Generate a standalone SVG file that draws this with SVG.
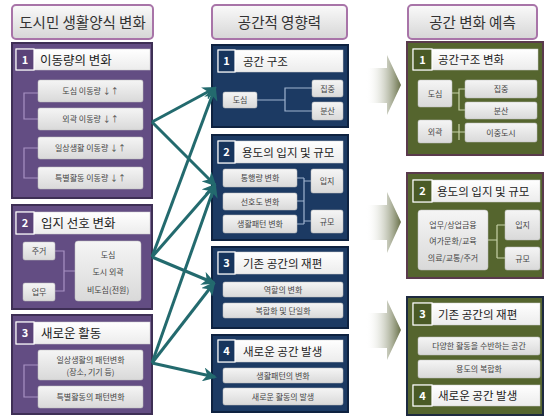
<svg xmlns="http://www.w3.org/2000/svg" width="546" height="419" viewBox="0 0 546 419">
<defs>
<linearGradient id="gSub" x1="0" y1="0" x2="0" y2="1"><stop offset="0" stop-color="#f5f5f5"/><stop offset="1" stop-color="#d9d9d9"/></linearGradient>
<linearGradient id="gTitle" x1="0" y1="0" x2="0" y2="1"><stop offset="0" stop-color="#fafafa"/><stop offset="1" stop-color="#d6d6d6"/></linearGradient>
<linearGradient id="gHead" x1="0" y1="0" x2="0" y2="1"><stop offset="0" stop-color="#ffffff"/><stop offset="1" stop-color="#ececec"/></linearGradient>
<linearGradient id="gArrow" x1="0" y1="0" x2="1" y2="0"><stop offset="0" stop-color="#ffffff" stop-opacity="0"/><stop offset="1" stop-color="#687048"/></linearGradient>
<marker id="ah" markerUnits="userSpaceOnUse" markerWidth="14" markerHeight="14" viewBox="0 0 14 14" refX="12" refY="7" orient="auto">
<path d="M0,0 L14,7 L0,14 L4,7 Z" fill="#236a6e"/>
</marker>
</defs>
<style>
text{font-family:"Noto Sans CJK KR","Noto Sans",sans-serif;}
.title{fill:url(#gTitle);stroke:#a874a8;stroke-width:2;}
.tt{font-size:14.5px;fill:#333;text-anchor:middle;}
.pp{fill:#634d83;stroke:#3e2f55;stroke-width:2;}
.pb{fill:#1c3a63;stroke:#0e2240;stroke-width:2;}
.pg{fill:#55652e;stroke:#5a3a4c;stroke-width:2;}
.pg2{fill:#55652e;stroke:#1e2a40;stroke-width:2;}
.hd{fill:url(#gHead);stroke:#cfcfcf;stroke-width:0.5;}
.nP{fill:#5a4378;stroke:#fff;stroke-width:1.2;}
.nB{fill:#17355d;stroke:#fff;stroke-width:1.2;}
.nG{fill:#4a5a26;stroke:#fff;stroke-width:1.2;}
.nt{font-size:11px;font-weight:bold;fill:#fff;text-anchor:middle;}
.ht{font-size:12.5px;fill:#222;}
.hs{font-size:11.5px;fill:#222;}
.sb{fill:url(#gSub);stroke:#bdbdbd;stroke-width:0.5;}
.st{font-size:8px;fill:#444;text-anchor:middle;}
.lp{fill:none;stroke:#a892c4;stroke-width:1.2;}
.lb{fill:none;stroke:#9fb3cf;stroke-width:1.2;}
.lg{fill:none;stroke:#c8d3a8;stroke-width:1.2;}
.cn{fill:none;stroke:#236a6e;stroke-width:3;marker-end:url(#ah);}
.ga{fill:url(#gArrow);}
</style>

<!-- Left column -->
<g id="title-left"><rect class="title" x="12" y="5" width="141" height="34" rx="4"/><text class="tt" x="82.5" y="27.5">도시민 생활양식 변화</text></g>

<g id="left-1">
<rect class="pp" x="12" y="43" width="140" height="155"/>
<rect class="hd" x="16" y="49" width="134" height="21"/>
<rect class="nP" x="16" y="49" width="18" height="21"/><text class="nt" x="25" y="64">1</text>
<text class="ht" x="40" y="64.5">이동량의 변화</text>
<path class="lp" d="M38,93 H24 V119 H38 M38,148 H24 V178 H38"/>
<rect class="sb" x="38" y="80" width="105" height="22" rx="2"/><text class="st" x="90.5" y="94">도심 이동량 ↓↑</text>
<rect class="sb" x="38" y="108" width="105" height="22" rx="2"/><text class="st" x="90.5" y="122">외곽 이동량 ↓↑</text>
<rect class="sb" x="38" y="137" width="105" height="22" rx="2"/><text class="st" x="90.5" y="151">일상생활 이동량 ↓↑</text>
<rect class="sb" x="38" y="167" width="105" height="22" rx="2"/><text class="st" x="90.5" y="181">특별활동 이동량 ↓↑</text>
</g>

<g id="left-2">
<rect class="pp" x="12" y="205" width="140" height="104"/>
<rect class="hd" x="16" y="212" width="134" height="22"/>
<rect class="nP" x="16" y="212" width="18" height="22"/><text class="nt" x="25" y="227">2</text>
<text class="ht" x="41" y="228">입지 선호 변화</text>
<path class="lp" d="M55,251 H64 V291 H55 M64,271 H75"/>
<rect class="sb" x="23" y="242" width="32" height="18" rx="2"/><text class="st" x="39" y="254">주거</text>
<rect class="sb" x="23" y="283" width="32" height="18" rx="2"/><text class="st" x="39" y="295">업무</text>
<rect class="sb" x="75" y="241" width="66" height="60" rx="3"/>
<text class="st" x="108" y="258">도심</text><text class="st" x="108" y="275">도시 외곽</text><text class="st" x="108" y="293">비도심(전원)</text>
</g>

<g id="left-3">
<rect class="pp" x="12" y="315" width="140" height="99"/>
<rect class="hd" x="16" y="322" width="134" height="22"/>
<rect class="nP" x="16" y="322" width="18" height="22"/><text class="nt" x="25" y="337">3</text>
<text class="ht" x="41" y="338">새로운 활동</text>
<path class="lp" d="M38,365 H24 V397 H38"/>
<rect class="sb" x="38" y="350" width="105" height="30" rx="2"/><text class="st" x="90.5" y="363">일상생활의 패턴변화</text><text class="st" x="90.5" y="375">(장소, 기기 등)</text>
<rect class="sb" x="38" y="386" width="105" height="22" rx="2"/><text class="st" x="90.5" y="400">특별활동의 패턴변화</text>
</g>

<!-- Middle column -->
<g id="title-mid"><rect class="title" x="212" y="5" width="135" height="34" rx="4"/><text class="tt" x="279.5" y="27.5">공간적 영향력</text></g>

<g id="mid-1">
<rect class="pb" x="212" y="45" width="136" height="82"/>
<rect class="hd" x="218" y="50" width="125" height="22"/>
<rect class="nB" x="218" y="50" width="17" height="22"/><text class="nt" x="226.5" y="65">1</text>
<text class="hs" x="243" y="65.5">공간 구조</text>
<path class="lb" d="M257,100 H285 M312,88 H285 V111 H312"/>
<rect class="sb" x="223" y="92" width="34" height="16" rx="2"/><text class="st" x="240" y="103">도심</text>
<rect class="sb" x="312" y="80" width="31" height="17" rx="2"/><text class="st" x="327.5" y="91.5">집중</text>
<rect class="sb" x="312" y="102" width="31" height="18" rx="2"/><text class="st" x="327.5" y="114">분산</text>
</g>

<g id="mid-2">
<rect class="pb" x="212" y="135" width="136" height="105"/>
<rect class="hd" x="218" y="141" width="125" height="22"/>
<rect class="nB" x="218" y="141" width="17" height="22"/><text class="nt" x="226.5" y="156">2</text>
<text class="hs" x="242" y="156.5">용도의 입지 및 규모</text>
<path class="lb" d="M297,178 H304 M297,201 H304 M297,224 H304 M304,178 V224 M304,181 H311 M304,221 H311"/>
<rect class="sb" x="223" y="169" width="74" height="18" rx="2"/><text class="st" x="260" y="181">통행량 변화</text>
<rect class="sb" x="223" y="193" width="74" height="17" rx="2"/><text class="st" x="260" y="204.5">선호도 변화</text>
<rect class="sb" x="223" y="215" width="74" height="18" rx="2"/><text class="st" x="260" y="227">생활패턴 변화</text>
<rect class="sb" x="311" y="169" width="32" height="24" rx="2"/><text class="st" x="327" y="184">입지</text>
<rect class="sb" x="311" y="210" width="32" height="23" rx="2"/><text class="st" x="327" y="224.5">규모</text>
</g>

<g id="mid-3">
<rect class="pb" x="212" y="247" width="136" height="81"/>
<rect class="hd" x="218" y="252" width="125" height="22"/>
<rect class="nB" x="218" y="252" width="17" height="22"/><text class="nt" x="226.5" y="267">3</text>
<text class="hs" x="243" y="267.5">기존 공간의 재편</text>
<rect class="sb" x="223" y="282" width="120" height="15" rx="2"/><text class="st" x="283" y="292.5">역할의 변화</text>
<rect class="sb" x="223" y="303" width="120" height="15" rx="2"/><text class="st" x="283" y="313.5">복합화 및 단일화</text>
</g>

<g id="mid-4">
<rect class="pb" x="212" y="335" width="136" height="77"/>
<rect class="hd" x="218" y="340" width="125" height="22"/>
<rect class="nB" x="218" y="340" width="17" height="22"/><text class="nt" x="226.5" y="355">4</text>
<text class="hs" x="243" y="355.5">새로운 공간 발생</text>
<rect class="sb" x="223" y="368" width="120" height="15" rx="2"/><text class="st" x="283" y="378.5">생활패턴의 변화</text>
<rect class="sb" x="223" y="388" width="120" height="17" rx="2"/><text class="st" x="283" y="399.5">새로운 활동의 발생</text>
</g>

<!-- Right column -->
<g id="title-right"><rect class="title" x="408" y="5" width="129" height="34" rx="4"/><text class="tt" x="472.5" y="27.5">공간 변화 예측</text></g>

<g id="right-1">
<rect class="pg" x="407" y="42" width="136" height="113"/>
<rect class="hd" x="413" y="49" width="125" height="21"/>
<rect class="nG" x="413" y="49" width="19" height="21"/><text class="nt" x="422.5" y="64">1</text>
<text class="hs" x="438" y="64">공간구조 변화</text>
<path class="lg" d="M452,93 H459 M465,89 H459 V110 H465 M452,132 H465 M459,124 V140"/>
<rect class="sb" x="418" y="80" width="34" height="27" rx="2"/><text class="st" x="435" y="96.5">도심</text>
<rect class="sb" x="418" y="120" width="34" height="23" rx="2"/><text class="st" x="435" y="134.5">외곽</text>
<rect class="sb" x="465" y="80" width="72" height="18" rx="2"/><text class="st" x="501" y="92">집중</text>
<rect class="sb" x="465" y="102" width="72" height="17" rx="2"/><text class="st" x="501" y="113.5">분산</text>
<rect class="sb" x="465" y="123" width="72" height="19" rx="2"/><text class="st" x="501" y="135.5">이중도시</text>
</g>

<g id="right-2">
<rect class="pg" x="407" y="173" width="136" height="105"/>
<rect class="hd" x="413" y="180" width="127" height="22"/>
<rect class="nG" x="413" y="180" width="19" height="22"/><text class="nt" x="422.5" y="195">2</text>
<text class="hs" x="437" y="195.5">용도의 입지 및 규모</text>
<path class="lg" d="M488,240 H497 M497,225 V258 M497,225 H505 M497,258 H505"/>
<rect class="sb" x="418" y="210" width="70" height="60" rx="3"/>
<text class="st" x="453" y="228">업무/상업금융</text><text class="st" x="453" y="244">여가문화/교육</text><text class="st" x="453" y="261">의료/교통/주거</text>
<rect class="sb" x="505" y="210" width="35" height="30" rx="2"/><text class="st" x="522.5" y="228">입지</text>
<rect class="sb" x="505" y="247" width="35" height="23" rx="2"/><text class="st" x="522.5" y="261.5">규모</text>
</g>

<g id="right-3">
<rect class="pg2" x="407" y="297" width="136" height="118"/>
<rect class="hd" x="413" y="303" width="127" height="22"/>
<rect class="nG" x="413" y="303" width="19" height="22"/><text class="nt" x="422.5" y="318">3</text>
<text class="hs" x="438" y="318.5">기존 공간의 재편</text>
<rect class="sb" x="418" y="337" width="122" height="18" rx="2"/><text class="st" x="479" y="349">다양한 활동을 수반하는 공간</text>
<rect class="sb" x="418" y="360" width="122" height="18" rx="2"/><text class="st" x="479" y="372">용도의 복합화</text>
</g>

<g id="right-4">
<rect class="hd" x="413" y="385" width="127" height="21"/>
<rect class="nG" x="413" y="385" width="19" height="21"/><text class="nt" x="422.5" y="400">4</text>
<text class="hs" x="438" y="400">새로운 공간 발생</text>
</g>

<!-- Connectors -->
<g id="connectors">
<path class="cn" d="M152,122 L215,88"/>
<path class="cn" d="M152,122 L215,185"/>
<path class="cn" d="M152,257 L215,88"/>
<path class="cn" d="M152,257 L215,185"/>
<path class="cn" d="M152,257 L214,283"/>
<path class="cn" d="M152,363 L215,185"/>
<path class="cn" d="M152,363 L214,283"/>
<path class="cn" d="M152,363 L215,377"/>
<path class="ga" d="M366,68 H387 V55 L401,85 L387,115 V103 H366 Z"/>
<path class="ga" d="M366,205 H387 V192 L401,222 L387,253 V240 H366 Z"/>
<path class="ga" d="M366,313 H387 V300 L401,330 L387,360 V348 H366 Z"/>
</g>
</svg>
